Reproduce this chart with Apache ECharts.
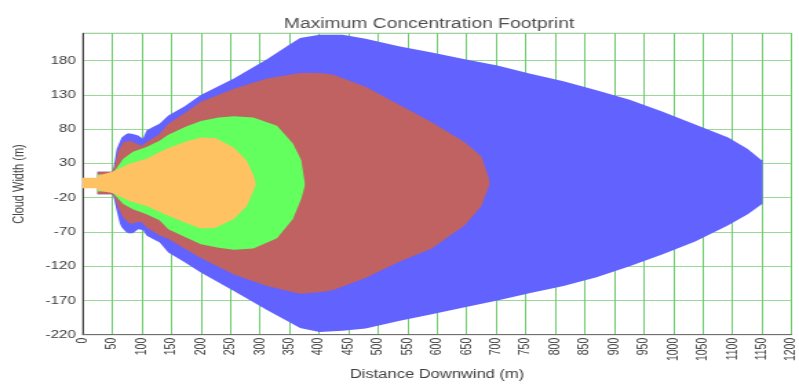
<!DOCTYPE html>
<html>
<head>
<meta charset="utf-8">
<script src="https://cdn.jsdelivr.net/npm/echarts@6/dist/echarts.min.js"></script>
<style>
  html, body { margin: 0; padding: 0; background: #fff; overflow: hidden; }
  /* the chart is laid out on a narrower canvas and stretched to the page width */
  #chart { width: 580px; height: 386px; transform: scaleX(1.3776); transform-origin: 0 0; }
</style>
</head>
<body>
<div id="chart"></div>
<script>
// Axis ranges (m)
const distanceMin = 0, distanceMax = 1200, distanceStep = 50;
const widthMin = -220, widthMax = 220, widthStep = 50;

// Outer footprint (blue)
const outerX     = [25, 50, 52, 57.5, 63, 66, 72, 77, 85, 94, 102, 108, 118, 130, 145, 172, 200, 256, 312, 351, 368, 401, 440, 479, 535, 591, 647, 702, 758, 814, 870, 926, 981, 1037, 1093, 1126, 1149, 1151];
const outerUpper = [18, 18, 23, 51, 62, 68, 72, 74, 73, 71, 66, 78, 83, 88, 100, 113, 130, 154, 182, 204, 213, 218, 218, 212, 201, 192, 182, 173, 161, 150, 137, 123, 106, 87, 68, 51, 35, 35];
const outerLower = [-15, -15, -18, -39, -58, -63, -69, -72, -72, -66, -67, -75, -80, -85, -100, -114, -129, -156, -184, -202, -210, -216, -214, -211, -200, -190, -180, -170, -159, -149, -136, -120, -103, -84, -60, -44, -30, -29];

// Middle footprint (brown)
const midX     = [25, 50, 53, 60, 68.6, 80, 99, 108, 130, 145, 172, 200, 256, 312, 368, 401, 423, 479, 535, 591, 647, 675, 687, 689];
const midUpper = [18, 18, 23, 47, 61, 63, 56, 61, 73, 88, 103, 120, 139, 154, 162, 162, 160, 142, 116, 90, 61, 40, 11, 2];
const midLower = [-15, -15, -17, -34, -49, -58, -55, -63, -75, -80, -94, -108, -132, -149, -160, -158, -155, -137, -114, -94, -60, -32, -5, -2];

// Inner footprint (green)
const innerX     = [25, 50, 53, 68.6, 85, 108, 130, 145, 175, 200, 230, 256, 289, 329, 356, 370, 376];
const innerUpper = [14, 14, 18, 37, 47, 54, 63, 72, 84, 92, 97, 99, 97, 85, 59, 35, 2];
const innerLower = [-11, -11, -15, -29, -37, -44, -53, -66, -78, -88, -93, -96, -94, -79, -51, -22, -3];

// Core footprint (orange)
const coreX     = [0, 25, 25, 50, 80, 108, 141, 175, 200, 225, 256, 278, 290, 293];
const coreUpper = [9, 9, 12, 18, 30, 37, 51, 62, 68, 67, 53, 34, 11, 1];
const coreLower = [-6, -6, -9, -13, -25, -32, -45, -57, -65, -64, -51, -32, -8, -2];

const FONT = 'Liberation Sans, Arial, sans-serif';

// Each footprint is one closed polygon: upper edge left-to-right, lower edge back.
function footprint(name, xs, upper, lower, color) {
  return {
    type: 'custom',
    name: name,
    data: xs.map((x, i) => [x, upper[i], lower[i]]),
    encode: { x: 0, y: [1, 2] },
    clip: true,
    silent: true,
    renderItem: function (params, api) {
      if (params.dataIndexInside !== 0) return null;
      const n = params.dataInsideLength;
      const pts = [];
      for (let i = 0; i < n; i++) pts.push(api.coord([api.value(0, i), api.value(1, i)]));
      for (let i = n - 1; i >= 0; i--) pts.push(api.coord([api.value(0, i), api.value(2, i)]));
      return { type: 'polygon', shape: { points: pts }, style: { fill: color } };
    }
  };
}

const chart = echarts.init(document.getElementById('chart'), null, { renderer: 'canvas' });
chart.setOption({
  animation: false,
  textStyle: { fontFamily: FONT },
  title: {
    text: 'Maximum Concentration Footprint',
    left: 201, top: 12,
    textStyle: { fontFamily: FONT, fontSize: 14, fontWeight: 'normal', color: '#505050' }
  },
  grid: {
    left: 58.3, right: 1.2, top: 33.3, bottom: 44.5,
    show: true, borderColor: '#a0a0a0', borderWidth: 1
  },
  xAxis: {
    type: 'value',
    min: distanceMin, max: distanceMax, interval: distanceStep,
    name: 'Distance Downwind (m)',
    nameLocation: 'middle', nameGap: 32,
    nameTextStyle: { fontFamily: FONT, fontSize: 12, color: '#404040' },
    axisLine: { show: true, onZero: false, lineStyle: { color: '#707070', width: 1 } },
    axisTick: { show: false },
    axisLabel: {
      rotate: 90, fontSize: 10.5, color: '#404040', margin: 3, fontFamily: FONT,
      formatter: v => String(v)
    },
    splitLine: { show: true, lineStyle: { color: '#6ccc6c', width: 1 } }
  },
  yAxis: {
    type: 'value',
    min: widthMin, max: widthMax, interval: widthStep,
    name: 'Cloud Width (m)',
    nameLocation: 'middle', nameGap: 41, nameRotate: 90,
    nameTextStyle: { fontFamily: FONT, fontSize: 11, color: '#404040' },
    axisLine: { show: true, onZero: false, lineStyle: { color: '#404040', width: 1 } },
    axisTick: { show: false },
    axisLabel: {
      fontSize: 11, color: '#404040', margin: 5, showMaxLabel: false, fontFamily: FONT,
      formatter: v => String(v)
    },
    splitLine: { show: true, lineStyle: { color: '#9ad89a', width: 1 } }
  },
  series: [
    footprint('Outer', outerX, outerUpper, outerLower, '#6262ff'),
    footprint('Middle', midX, midUpper, midLower, '#c06262'),
    footprint('Inner', innerX, innerUpper, innerLower, '#62ff5e'),
    footprint('Core', coreX, coreUpper, coreLower, '#ffc262')
  ]
});
</script>
</body>
</html>
